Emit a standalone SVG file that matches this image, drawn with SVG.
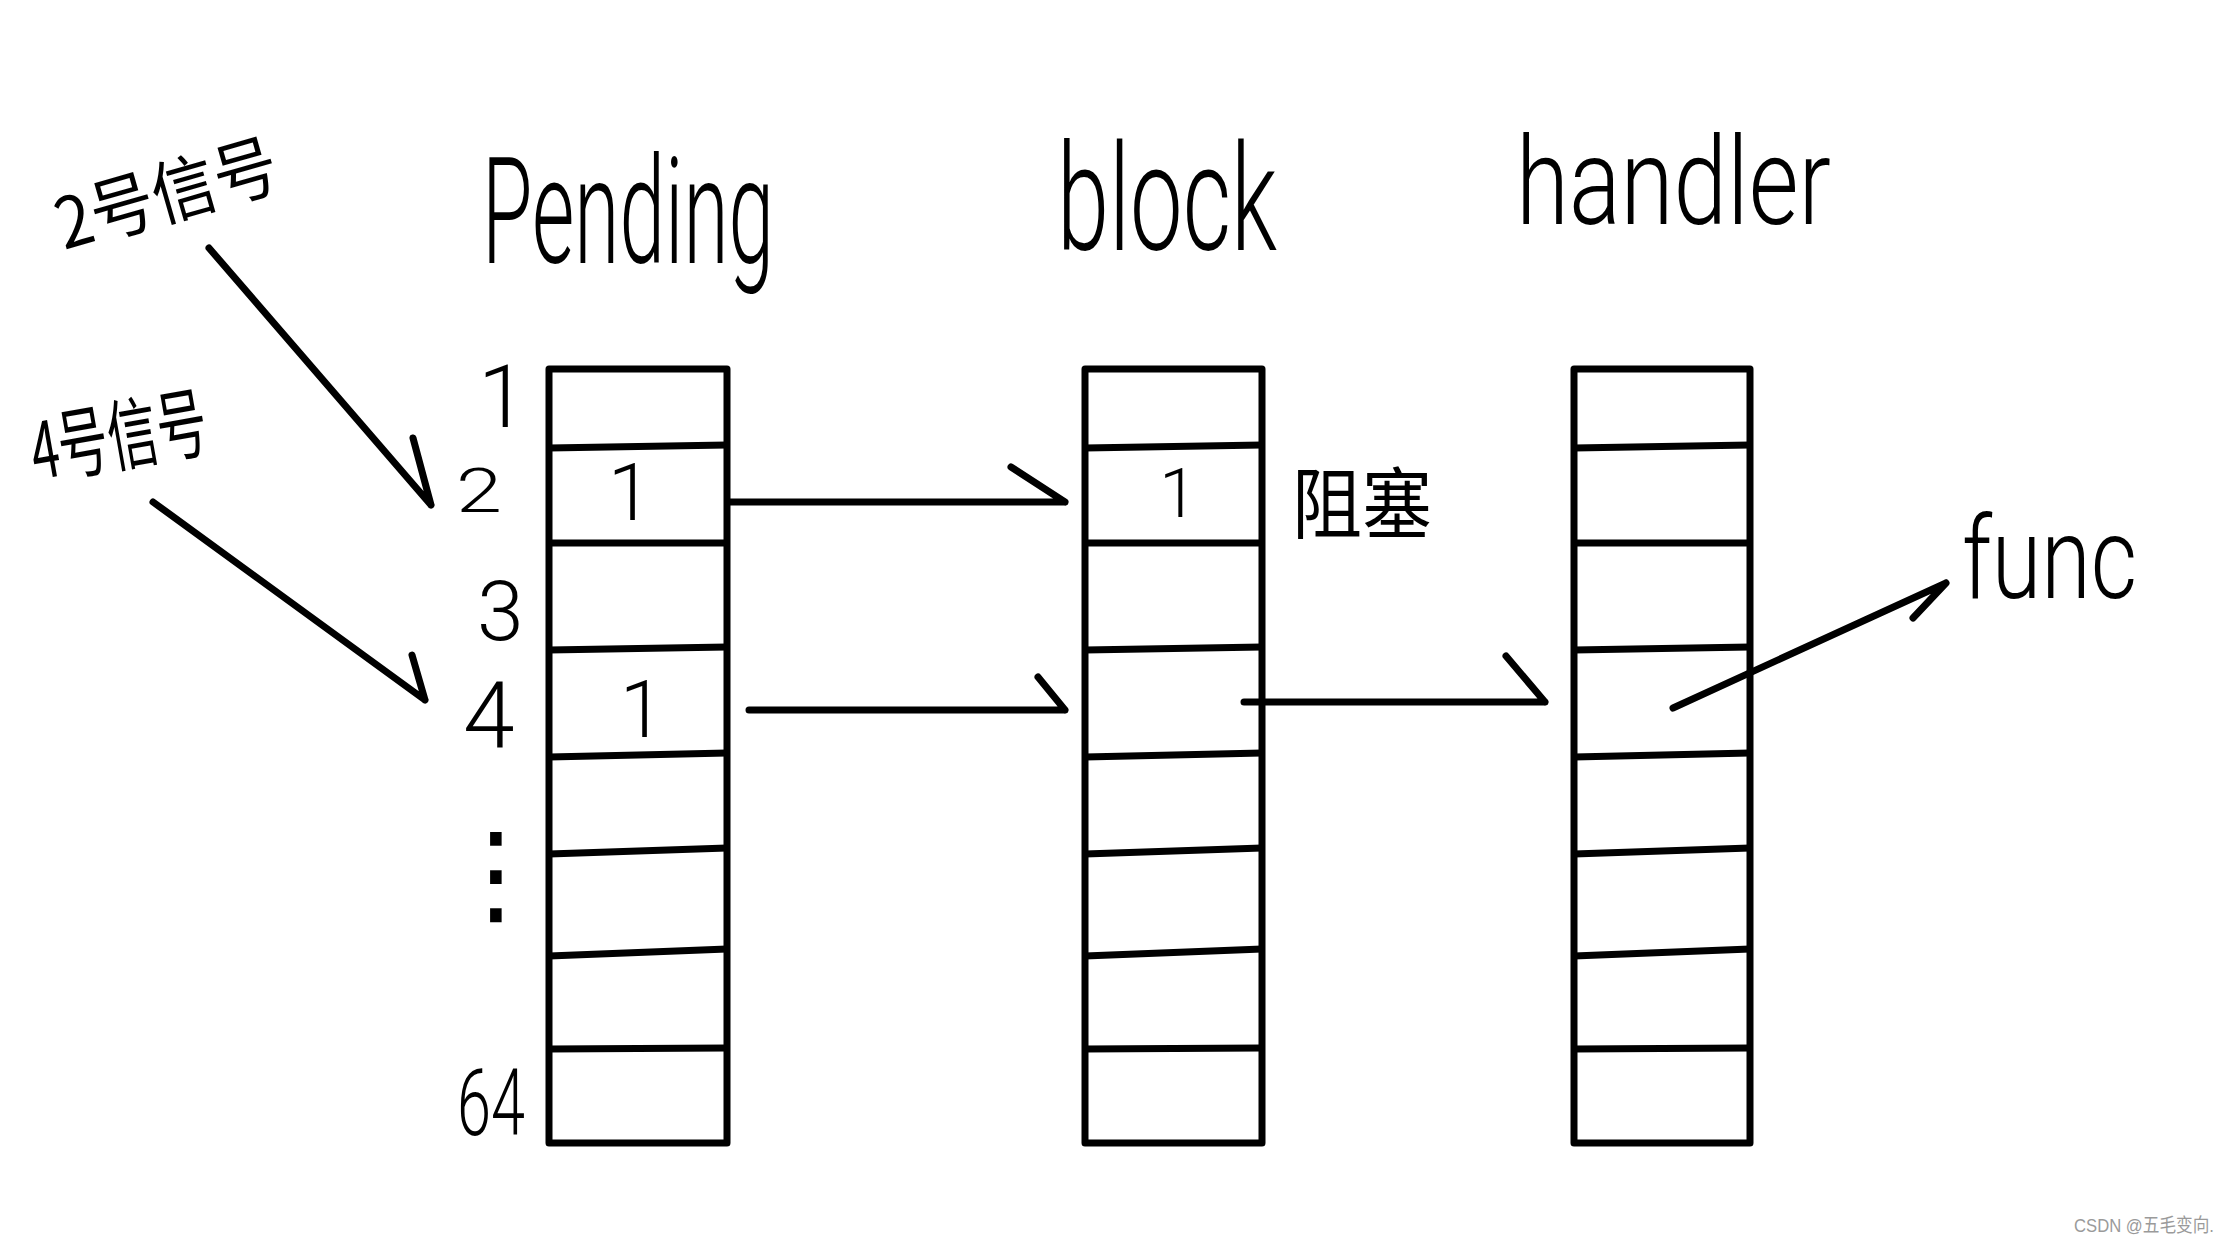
<svg xmlns="http://www.w3.org/2000/svg" width="2232" height="1239" viewBox="0 0 2232 1239">
<style>
.box{fill:none;stroke:#000;stroke-width:7;stroke-linejoin:round;stroke-linecap:round}
.row{fill:none;stroke:#000;stroke-width:7;stroke-linecap:butt}
.ln{fill:none;stroke:#000;stroke-width:7;stroke-linecap:round;stroke-linejoin:round}
.hw{font-family:Roboto,"Liberation Sans Narrow","Liberation Sans",sans-serif;font-weight:300;fill:#000}
.cjk{font-family:"Noto Sans CJK SC",sans-serif;font-weight:400;fill:#000}
.sym{font-family:"DejaVu Sans",sans-serif;fill:#000}
.wm{font-family:"Liberation Sans Narrow","Liberation Sans","Noto Sans CJK SC",sans-serif;fill:#9a9a9a}
</style>
<rect width="2232" height="1239" fill="#fff"/>

<g id="pending">
  <text class="hw" x="482" y="263" font-size="148" textLength="292" lengthAdjust="spacingAndGlyphs">Pending</text>
  <rect class="box" x="549" y="369" width="178" height="774"/>
  <path class="row" d="M549 448 L727 445 M549 543 L727 543 M549 650 L727 647 M549 757 L727 753 M549 854 L727 848 M549 956 L727 949 M549 1049 L727 1048"/>
  <text class="hw" x="630" y="520" font-size="80" text-anchor="middle">1</text>
  <text class="hw" x="642" y="737" font-size="80" text-anchor="middle">1</text>
</g>

<g id="block">
  <text class="hw" x="1057" y="250" font-size="148" textLength="220" lengthAdjust="spacingAndGlyphs">block</text>
  <rect class="box" x="1085" y="369" width="177" height="774"/>
  <path class="row" d="M1085 448 L1262 445 M1085 543 L1262 543 M1085 650 L1262 647 M1085 757 L1262 753 M1085 854 L1262 848 M1085 956 L1262 949 M1085 1049 L1262 1048"/>
  <text class="hw" x="1178" y="517" font-size="68" text-anchor="middle">1</text>
</g>

<g id="block-label">
  <text class="cjk" x="1292" y="533" font-size="78" textLength="140" lengthAdjust="spacingAndGlyphs">阻塞</text>
</g>

<g id="handler">
  <text class="hw" x="1516" y="224" font-size="122" textLength="315" lengthAdjust="spacingAndGlyphs">handler</text>
  <rect class="box" x="1574" y="369" width="176" height="774"/>
  <path class="row" d="M1574 448 L1750 445 M1574 543 L1750 543 M1574 650 L1750 647 M1574 757 L1750 753 M1574 854 L1750 848 M1574 956 L1750 949 M1574 1049 L1750 1048"/>
</g>

<g id="func">
  <text class="hw" x="1962" y="598" font-size="115" textLength="175" lengthAdjust="spacingAndGlyphs">func</text>
</g>

<g id="indices">
  <text class="hw" x="478" y="427" font-size="88">1</text>
  <text class="hw" x="456" y="512" font-size="62" textLength="46" lengthAdjust="spacingAndGlyphs">2</text>
  <text class="hw" x="477" y="640" font-size="84">3</text>
  <text class="hw" x="463" y="748" font-size="93">4</text>
  <text class="sym" x="496" y="912" font-size="112" text-anchor="middle">⋮</text>
  <text class="hw" x="457" y="1135" font-size="92" textLength="68" lengthAdjust="spacingAndGlyphs">64</text>
</g>

<g id="sig2">
  <text class="cjk" x="64" y="250" font-size="70" textLength="228" lengthAdjust="spacingAndGlyphs" transform="rotate(-16 64 250)">2号信号</text>
</g>

<g id="sig4">
  <text class="cjk" x="36" y="480" font-size="78" textLength="178" lengthAdjust="spacingAndGlyphs" transform="rotate(-10 36 480)">4号信号</text>
</g>

<g id="connectors">
  <path class="ln" d="M209 248 L431 505 M413 438 L431 505"/>
  <path class="ln" d="M153 502 L425 700 M412 655 L425 700"/>
  <path class="ln" d="M730 502 L1065 502 M1011 467 L1065 502"/>
  <path class="ln" d="M749 710 L1065 710 M1038 677 L1065 710"/>
  <path class="ln" d="M1244 702 L1545 702 M1506 656 L1545 702"/>
  <path class="ln" d="M1673 708 L1946 583 M1913 618 L1946 583"/>
</g>

<text class="wm" x="2074" y="1232" font-size="19" textLength="140" lengthAdjust="spacingAndGlyphs">CSDN @五毛变向.</text>
</svg>
